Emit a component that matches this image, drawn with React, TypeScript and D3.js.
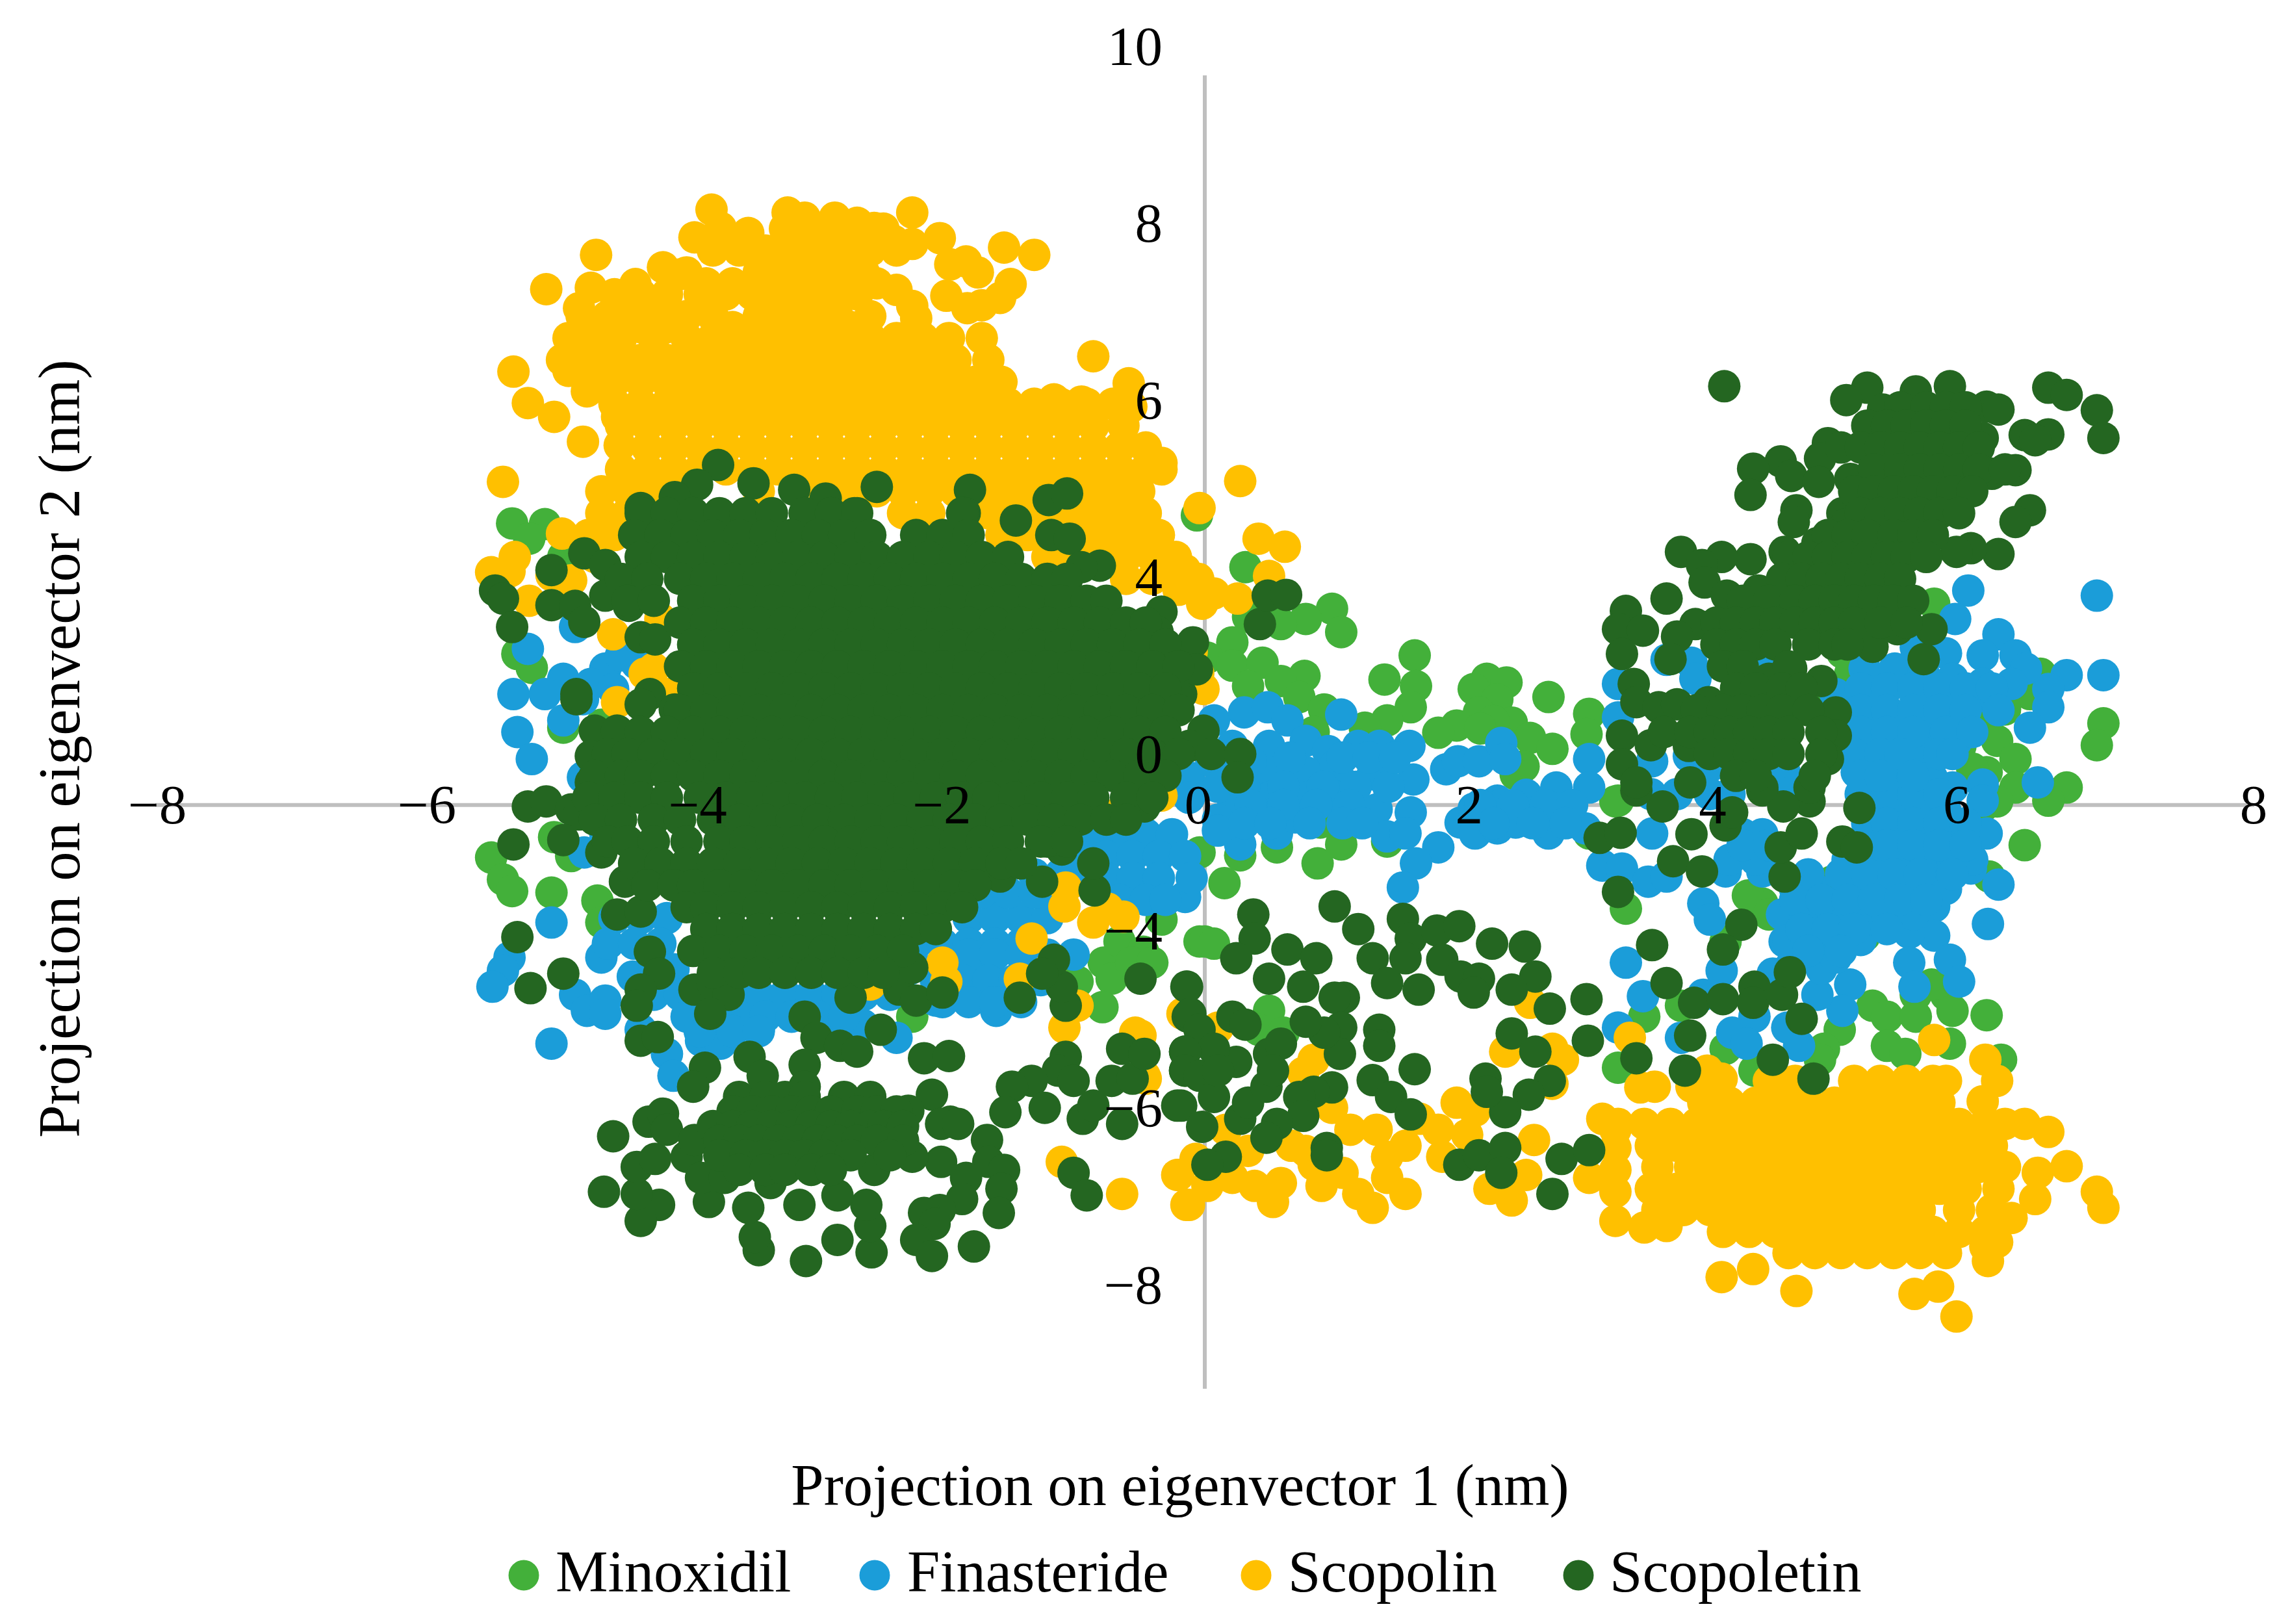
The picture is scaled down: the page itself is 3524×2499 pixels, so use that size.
import React, { useEffect, useRef } from 'react'
import * as d3 from 'd3'

type Pt = [number, number]

// values. a "rows" array is one y followed by the x values on that line
const minoxidilPoints: Pt[] = [
  [-5.28,3.86],[-5.03,3.85],[-5.15,3.65],[-4.89,3.4],[-4.57,3.93],[-5.24,2.07],[-5.13,1.88],[-4.89,1.06],[-4.6,1.1],
  [-5.44,-.72],[-5.35,-1.02],[-5.28,-1.18],[-4.98,-1.2],[-4.96,-.44],[-4.83,-.7],[-4.63,-1.31],[-4.6,-1.61],[-4.57,-.17],
  [-2.23,-2.9],[-1.64,-2.6],[-.77,-2.16],[-.65,-1.87],[-.47,-2.01],[-.71,-2.38],[-.78,-2.77],[-.56,-2.16],[-.33,-1.57],[-.97,-2.42],[-.04,-1.87],
  [.31,3.26],[-.06,3.97],[.97,2.69],[1.04,2.37],[.77,2.55],[.58,2.48],[.33,2.58],[.21,2.23],[.02,2.02],[.21,1.91],[.44,1.95],[.76,1.77],[.58,1.7],[.33,1.63],[.72,1.48],
  [1.6,2.05],[1.37,1.72],[1.61,1.63],[1.57,1.34],[1.39,1.16],[.91,1.31],[1.22,1.06],[.83,1],[2.15,1.73],[2.3,1.68],[2.05,1.59],[2.23,1.45],[2.62,1.48],[2.09,1.27],
  [2.93,1.25],[2.91,.97],[2.34,1.13],[1.92,1.09],[1.78,.99],[2.48,.92],[2.65,.77],[2.43,.53],[2.37,.42],[2.2,1.15],[2.1,1.05],
  [5.56,2.76],[4.86,2.09],[4.92,1.8],[6.37,1.8],[6.29,1.52],[6.1,1.31],[5.93,1.09],[6.04,.88],[6.18,.63],[5.96,.45],[6.18,.24],[6.57,.24],[6.43,.06],[6.85,1.12],[6.8,.82],
  [4.22,1.8],[5.26,.24],[5.1,.2],[3.77,.45],[3.15,.06],[5.76,.81],[6.25,-.55],[5.82,-.5],[5.65,-.32],[5.98,-.98],[5.93,-.02],[6.04,.05],
  [.27,-.69],[.55,-.58],[.86,-.8],[1.04,-.54],[.15,-1.07],[.88,-.24],[1.39,-.5],[2.93,-.39],[3.13,.05],[3.21,-1.42],[0,-1.87],[.07,-1.9],[-.4,-2.16],[-.04,-.65],
  [4.25,-1.35],[4.14,-1.24],[4.3,-1.5],[3.97,-1.87],[3.97,-3.34],[3.63,-2.75],[3.35,-2.9],[3.15,-3.6],[.49,-2.82],[.41,-3.08],[.6,-3.12],[5.09,-2.75],[5.2,-2.9],[4.84,-3.08],
  [4.72,-3.34],[5.2,-3.3],[5.34,-3.41],[5.96,-2.88],[5.42,-2.6],[5.65,-2.6],[5.7,-2.82],[5.42,-2.9],[5.54,-2.46],[5.68,-3.27],[6.07,-3.49],[4.19,-3.64],[4.69,-3.49],
  [4.78,-1.05],[5.03,-1.79],[5.09,.05],[5.26,.13],[5.5,.9],[5.8,1.1],[5.85,.5],[5.5,.3],[4.75,1.5],[4.85,2.4],
]

const finasteridePoints: Pt[] = [
  [-5.16,2.14],[-5.27,1.52],[-5.24,1],[-5.13,.63],[-4.89,1.73],[-5.03,1.52],[-4.89,1.16],[-4.8,2.44],[-4.57,1.87],[-4.45,2.05],[-4.68,1.66],[-4.74,1.45],[-4.51,1.59],[-4.33,1.94],
  [-4.65,.67],[-4.74,.38],[-4.73,-.65],[-4.57,-.39],[-4.98,-1.61],[-5.3,-2.09],[-5.35,-2.27],[-5.43,-2.49],[-4.6,-2.09],[-4.8,-2.6],[-4.71,-2.82],[-4.57,-2.68],[-4.57,-2.86],[-4.98,-3.27],
  [-4.36,-2.35],[-4.3,-3.08],[-4.1,-3.41],[-4.05,-3.71],[-3.84,-3.23],[-3.69,-3.27],[-3.4,-3.08],[-2.87,-3.05],[-2.61,-3.01],[-2.35,-3.19],[-1.59,-2.82],[-1.82,-2.64],[-2.05,-2.68],
  [-.15,-1.26],[.07,1.16],[.3,1.27],[.48,1.34],[.63,1.16],[1.04,1.24],[.21,.81],[.49,.81],[.77,.88],[.94,.74],[1.17,.81],[1.33,.81],[1.56,.81],[.21,.45],[.49,.45],[.77,.45],[1.05,.31],[1.28,.42],
  [1.59,.35],[1.84,.49],[1.93,.6],[2.09,.6],[2.26,.85],[2.29,.63],[2.93,.63],[2.93,.24],[2.68,.24],[2.45,.14],[2.23,.06],[-.12,.38],[-.12,.1],[.21,.1],[.49,.1],[.77,.1],[.94,.1],[.05,.6],[.35,.6],[.65,.65],[1,.55],
  [.27,-.54],[.55,-.39],[.38,-.1],[.69,-.17],[.97,.13],[1.31,-.06],[1.39,-.43],[1.57,-.1],[1.53,-.39],[1.78,-.58],[1.61,-.8],[1.51,-1.13],[1.95,-.24],[2.06,-.39],[2.23,-.32],[2.37,-.24],[2.62,-.39],[2.51,-.1],[2.9,-.32],
  [.1,-.2],[.1,-.35],[1.15,-.2],[2.05,-.05],[2.25,0],
  [5.82,2.94],[6.8,2.87],[5.72,2.55],[6.05,2.34],[5.93,2.05],[6.18,2.05],[6.57,1.78],[6.85,1.78],[6.43,1.59],[6.43,1.34],[6.29,1.06],[6.26,1.87],[6.35,.31],[5.93,.28],[5.73,.88],
  [3.52,1.99],[3.71,1.95],[3.74,1.73],[3.15,1.66],[3.15,1.2],[3.41,.6],[3.69,.67],[4.42,1.87],[4.81,1.52],[5.09,1.52],[5.03,1.87],[5.26,1.87],[5.42,2.16],[5.65,2.08],[5.48,1.8],[5.7,1.73],[5.93,1.66],[6.15,1.66],
  [5.42,1.45],[5.65,1.45],[5.85,1.45],[5.14,1.16],[5.31,1.16],[5.54,1.16],[5.03,.88],[5.42,.88],[5.03,.6],[5.48,.6],[4.97,.45],[5.31,.38],[5.54,.38],[5.7,.24],[4.3,2.09],[3.85,.53],[4.42,.45],[4.47,.17],[5.93,.06],
  [5.96,-.39],[5.84,-.87],[6.05,-1.09],[5.97,-1.63],[5.65,-.94],[5.56,-1.39],[5.56,-1.79],[5.37,-1.75],[5.37,-2.16],[5.41,-2.49],[5.68,-2.12],[5.75,-2.42],[4.92,-2.46],[4.86,-2.82],[4.67,-2.6],[4.7,-2.24],[4.81,-2.09],
  [4.42,-1.87],[4.86,-1.87],[5.09,-1.65],[4.47,-2.2],[4.33,-2.31],[3.94,-2.27],[3.8,-2.6],[4.19,-2.9],[4.02,-3.12],[3.63,-3.19],[4.44,-3.05],[4.53,-3.3],[4.13,-3.27],[3.15,-3.05],[3.34,-2.62],[3.21,-2.16],
  [3.03,-.83],[3.18,-.87],[3.38,-1.05],[3.52,-.98],[3.41,-.39],[3.8,-1.35],[3.85,-1.57],[3.97,-.91],[4.25,-.91],
]

const finasteridePatchRows: number[][] = [
  [-.4,-.85,-.65,-.45,-.25],
  [-.7,-.95,-.75,-.55,-.35,-.15],
  [-1,-.75,-.55,-.35,-.1],
  [-1.3,-.65,-.45,-.3],
  [-1.55,-4.5,-4.3,-4.1,-1.8,-1.6,-1.4,-1.2],
  [-1.9,-4.55,-4.35,-4.15,-2.2,-2,-1.8,-1.6,-1.4],
  [-2.25,-4.05,-2.25,-2.05,-1.85,-1.65],
  [-2.6,-4.2,-4,-3.8,-3.6,-3.4,-3.2,-3,-2.8,-2.6,-2.4,-1.7,-1.55],
  [-2.9,-3.95,-3.75,-3.55,-3.35,-3.15,-2.95,-2.75],
  [-.1,5.1,5.3,5.5,5.65],
  [-.4,4.1,4.25,5.1,5.3,5.5,5.7],
  [-.75,4,4.2,4.9,5.1,5.3,5.5,5.7,5.85],
  [-1.15,4.5,4.65,4.9,5.1,5.3,5.5,5.65],
  [-1.5,4.4,4.6,4.8,5,5.2,5.4],
  [-1.85,4.45,4.65,5],
  [.15,3.4,3.6,3.85,4,5,5.2,5.4,5.6],
  [1.6,5,5.2,5.4,5.6,5.8,6],
  [1.3,5,5.2,5.4,5.6,5.8,6.05],
  [1,5,5.2,5.4,5.65,5.85],
  [.7,4.95,5.15,5.3,5.6,5.7],
  [.4,5,5.15,5.4],
  [-.25,5.05,5.2,5.4,5.6,5.8],
  [-.55,4.1,4.3,5,5.2,5.4,5.6,5.8],
  [-.95,4.6,4.85,5.05,5.25,5.45,5.7],
  [-1.3,4.5,4.7,4.9,5.1,5.3,5.5],
  [-1.7,4.55,4.75,4.95,5.2],
  [-2,4.6,4.85],
  [-.95,-1.3,-1.1,-.9],
  [-1.2,-1.7,-1.5,-1.3,-1.1],
  [-2.05,-1.8,-1.6,-1.4,-1.2,-1],
  [-2.4,-2.05,-1.85,-1.65,-1.45,-1.25],
  [-2.7,-2,-1.8,-1.6,-1.4],
  [-3.1,-3.85,-3.6,-3.4],
  [.25,.1,.3,.6,.9,1.15,1.4],
  [.65,1.05,1.25,1.45],
  [0,.35,.6,.85,1.1,2.1,2.35,2.6,2.8],
  [-.25,.3,.5,.8,1.05,1.2,2.2,2.5,2.75],
]

const scopolinPoints: Pt[] = [
  [-3.76,8.16],[-2.23,8.12],[-3.18,8.12],[-3.05,8.05],[-2.82,8.05],[-2.65,7.98],[-2.52,7.91],[-3.89,7.78],[-3.69,7.91],[-3.48,7.84],[-2.02,7.77],[-1.53,7.64],[-1.3,7.54],[-2.37,7.73],[-2.23,7.69],
  [-1.82,7.45],[-1.94,7.41],[-1.73,7.3],[-1.48,7.14],[-1.56,6.95],[-1.97,6.98],[-1.81,6.81],[-1.7,6.85],[-2.23,6.84],[-2.2,6.67],[-2.35,7.06],[-4.64,7.54],[-5.02,7.07],[-4.68,7.09],[-4.34,7.14],[-4.13,7.37],[-4.01,7.27],
  [-4.77,6.81],[-4.45,6.91],[-5.27,5.94],[-5.16,5.51],[-4.96,5.32],[-4.74,4.98],[-4.46,4.93],[-4.48,5.32],[-4.71,5.67],[-5.35,4.43],[-.85,6.15],[-.58,5.78],[-.56,5.46],[-.33,4.69],[-.04,4.07],[-1.15,5.56],[-.94,5.53],
  [.27,4.44],[.41,3.65],[.61,3.54],[.49,3.14],[.25,2.83],[.07,2.9],[-.02,2.76],[-.15,3.22],[-.01,1.59],[-.3,3.2],[-.2,2.95],[-.1,2.1],[-.05,1.8],
  [-4.9,3.72],[-5.26,3.4],[-5.44,3.19],[-5.3,3.2],[-5.15,2.8],[-4.51,2.34],[-4.27,1.8],[-4.48,1.41],[-4.2,1.87],[-4.09,1.52],[-4.83,3.08],[-4.98,3.15],[-4.2,2.3],[-4.15,2.55],
  [3.94,-6.47],[4.18,-6.36],[4.51,-6.66],[5.41,-6.7],[5.59,-6.6],[5.73,-7.01],[5.97,-6.25],[5.95,-6.05],[6.43,-4.48],[6.57,-4.95],[6.8,-5.3],[6.85,-5.52],[6.33,-5.4],[6.15,-5.66],[6.04,-5.99],[6.35,-5.04],
  [5.95,-3.49],[6.04,-3.78],[5.93,-4.06],[5.56,-3.22],[3.13,-4.45],[3.13,-4.7],[3.13,-5],[3.13,-5.3],[3.13,-5.7],[3.35,-5.79],[3.52,-5.77],[3.24,-3.19],[3.32,-3.87],[3.43,-3.86],[3.71,-3.86],[3.83,-3.64],[3.94,-3.75],[3.03,-4.3],[2.93,-5.11],
  [-.2,-5.07],[-.12,-5.48],[.02,-5.22],[.21,-5.11],[.38,-5.22],[.52,-5.44],[.58,-5.18],[.33,-4.74],[.16,-4.45],[.66,-4.67],[.77,-4.74],[.83,-4.93],[.89,-5.22],[1.05,-5.04],[1.17,-5.33],[1.28,-5.52],[1.39,-5.11],[1.53,-5.33],
  [1.39,-4.82],[1.53,-4.67],[1.31,-4.45],[1.11,-4.45],[.97,-4.15],[1.64,-4.3],[1.78,-4.45],[1.81,-4.82],[1.92,-4.08],[2.06,-4.19],[2,-4.52],[2.17,-5.26],[2.34,-5.42],[2.45,-5.07],[2.51,-4.59],[2.29,-3.38],[2.65,-3.34],[2.73,-3.49],
  [2.48,-2.71],[2.65,-3.82],[.83,-3.49],[.75,-3.67],[.1,-3.05],[-.17,-2.86],[-.49,-3.16],[-.46,-3.71],[-1.07,-3.05],[-.97,-2.75],[-1.41,-2.38],[-1.32,-1.83],[-2,-2.16],[-1.97,-2.42],[-1.07,-1.39],[-1.06,-1.13],[-.85,-1.61],
  [-.62,-1.53],[-.74,-1.42],[-1.18,-2.23],[-.53,-3.12],[-.45,-3.75],[-1.09,-4.89],[-.63,-5.33],[-.21,-5.07],[-.14,-5.48],[-.07,-4.85],[-2.55,-2.46],[-.65,-.1],[-.33,.13],[-.35,.24],
]

const scopolinRows: number[][] = [
  [7.9,-3.2,-3,-2.8,-2.6,-2.45],
  [7.6,-3.75,-3.55,-3.35,-3.15,-2.95,-2.75,-2.55,-2.35],
  [7.3,-3.95,-3.4,-3.2,-3,-2.8,-2.6],
  [7.15,-3.8,-3.6,-3.3,-3.1,-2.9,-2.7,-2.5],
  [7,-4.5,-4.3,-4.1,-3.85,-3.65,-3.45,-3.25,-3.05,-2.85,-2.65],
  [6.7,-4.75,-4.55,-4.35,-4.15,-3.95,-3.75,-3.4,-3.2,-3,-2.8,-2.55],
  [6.55,-4.7,-4.5,-4.3,-4.1,-3.6,-3.3,-3.1,-2.9,-2.7],
  [6.4,-4.85,-4.65,-4.45,-4.2,-3.95,-3.75,-3.55,-3.35,-3.15,-2.95,-2.75,-2.55,-2.35,-2.15,-1.95,-1.7],
  [6.1,-4.9,-4.7,-4.5,-4.3,-4.1,-3.9,-3.7,-3.5,-3.3,-3.1,-2.9,-2.7,-2.5,-2.3,-2.1,-1.9,-1.65],
  [5.95,-4.85,-4.6,-4.4,-4.15],
  [5.8,-4.7,-4.5,-4.3,-4.1,-3.95,-3.75,-3.55,-3.35,-3.15,-2.95,-2.75,-2.55,-2.35,-2.15,-1.95,-1.75,-1.55],
  [5.5,-4.5,-4.3,-4.1,-3.9,-3.7,-3.5,-3.3,-3.1,-2.9,-2.7,-2.5,-2.3,-2.1,-1.9,-1.7,-1.5,-1.3,-1.1,-.9,-.7],
  [5.2,-4.45,-4.25,-4.05,-3.85,-3.65,-3.45,-3.25,-3.05,-2.85,-2.65,-2.45,-2.25,-2.05,-1.85,-1.65,-1.45,-1.25,-1.05,-.85,-.62],
  [4.9,-4.25,-4.05,-3.85,-3.65,-3.45,-3.25,-3.05,-2.85,-2.65,-2.45,-2.25,-2.05,-1.85,-1.65,-1.45,-1.25,-1.05,-.85,-.65,-.45],
  [4.6,-4.45,-4.25,-4.05,-3.85,-3.65,-3.45,-3.25,-3.05,-2.85,-2.65,-2.45,-2.25,-2.05,-1.85,-1.65,-1.45,-1.25,-1.05,-.85,-.65,-.45,-.33],
  [4.3,-4.6,-4.4,-4.2,-3.4,-2.9,-2.7,-2.5,-2.3,-2.1,-1.9,-1.7,-1.5,-1.3,-1.1,-.9,-.7,-.5],
  [4,-4.6,-4.4,-3,-2.3,-2.1,-1.65,-1.45,-1.25,-1.05,-.85,-.65,-.45],
  [3.7,-4.7,-4.5,-1.55,-1.35,-1.15,-.95,-.75,-.55,-.35],
  [3.4,-4.65,-1.2,-1,-.8,-.6,-.4,-.22],
  [3.1,-.6,-.4,-.2,-.05],
]

const scopoletinPoints: Pt[] = [
  [-3.71,4.66],[-3.44,4.41],[-3.87,4.39],[-4.04,4.22],[-4.3,4.07],[-3.13,4.32],[-2.89,4.2],[-2.5,4.36],[-1.79,4.32],[-2.67,4],[-1.83,4],[-1.44,3.9],[-1.19,4.18],[-1.05,4.27],[-1.17,3.7],[-1.03,3.65],[-.8,3.28],[-.94,3.26],
  [-5.41,2.94],[-5.35,2.83],[-5.28,2.44],[-4.98,3.22],[-4.73,3.45],[-4.57,3.29],[-4.98,2.74],[-4.8,2.73],[-4.73,2.51],[-4.57,2.87],[-4.39,2.73],[-4.3,2.3],[-4.19,2.27],[-4.79,1.45],[-4.79,1.52],[-4.23,1.52],[-4.3,1.38],[-4.04,1.31],
  [-4.65,1.02],[-4.48,1.02],[-4.68,.67],[-4.45,.6],[-4.68,.31],[-4.27,.53],[-4.16,.74],[-.33,2.65],[-.36,2.37],[-.09,2.23],[-.18,1.52],[-.06,1.86],[-.21,1.48],[-.01,1.02],[-.12,.81],[.05,.7],[.27,.7],[.25,.38],[-.35,.42],
  [.42,2.48],[.48,2.87],[.62,2.88],
  [-5.16,-.02],[-5.02,.05],[-4.83,-.06],[-4.77,-.13],[-5.27,-.54],[-4.89,-.48],[-4.6,-.65],[-5.24,-1.81],[-4.89,-2.31],[-5.14,-2.51],[-4.48,-1.5],[-4.42,-1.05],[-4.3,-1.46],[-4.23,-2.01],[-4.16,-2.31],[-4.3,-2.53],[-4.33,-2.75],
  [-4.3,-3.23],[-4.17,-3.18],[-3.89,-2.53],[-3.75,-2.45],[-3.63,-2.6],[-3.77,-2.86],[-3.05,-2.9],[-2.96,-3.19],[-2.78,-3.3],[-2.65,-3.38],[-2.47,-3.08],[-2.7,-2.64],[-2.33,-2.53],[-2.2,-2.68],[-2,-2.57],[-2.23,-2.23],[-2.14,-3.47],[-1.95,-3.44],
  [-1.41,-2.64],[-1.06,-2.75],[-1.09,-2.49],[-1.15,-2.12],[-1.24,-2.31],[-1.24,-1.05],[-.84,-1.17],[-.85,-.8],[-1.09,-.61],[-1.2,-.5],[-1.56,-.98],[-.46,-.02],[-.49,-2.38],[-.14,-2.49],[-.13,-2.9],
  [-1.06,-3.45],[-1.12,-3.64],[-1,-3.78],[-1.32,-3.78],[-1.47,-3.86],[-1.22,-4.15],[-1.52,-4.21],[-.93,-4.3],[-.85,-4.12],[-.71,-3.78],[-.55,-3.75],[-.63,-3.34],[-.46,-3.41],[-.63,-4.37],[-.18,-4.12],[-.15,-3.38],[-.15,-3.64],[-1,-5.04],[-.9,-5.35],
  [-3.81,-3.6],[-3.9,-3.86],[-3.47,-3.45],[-3.37,-3.71],[-3.05,-3.56],[-3.05,-3.86],[-2.08,-3.97],[-2.26,-4.19],[-1.94,-4.34],[-2.01,-4.37],[-1.88,-4.37],[-1.66,-4.59],[-1.65,-4.89],[-1.53,-5],[-1.82,-5.11],[-1.55,-5.26],[-1.85,-5.4],[-1.57,-5.59],
  [-2.01,-4.89],[-2.23,-4.82],[-2.52,-5],[-2.02,-5.55],[-2.14,-5.59],[-2.06,-5.74],[-2.2,-5.96],[-2.08,-6.18],[-1.76,-6.05],[-2.54,-6.13],[-2.55,-5.77],[-2.58,-5.48],[-2.8,-5.96],[-2.8,-5.35],[-3.09,-5.48],[-3.04,-6.25],[-3.4,-6.1],[-3.43,-5.92],
  [-3.48,-5.52],[-3.31,-5.18],[-3.78,-5.44],[-4.16,-5.48],[-4.3,-5.7],[-4.33,-5.33],[-4.58,-5.3],[-4.33,-4.96],[-4.19,-4.85],[-4.51,-4.54],[-4.24,-4.34],[-4.13,-4.23],[-4.1,-4.45],[-3.95,-4.82],[-3.89,-4.59],[-3.84,-5.11],[-3.66,-5.11],
  [-.135,-2.49],[-.11,-2.86],[-.04,-3.08],[.21,-2.9],[.31,-3.01],[.37,-1.5],[.38,-1.83],[.24,-2.1],[.63,-1.98],[.85,-2.1],[.49,-2.38],[.75,-2.49],[.99,-1.39],[1.17,-1.7],[1.28,-2.1],[1.39,-2.44],[1.51,-1.56],[1.57,-1.83],[1.53,-2.1],[1.63,-2.53],
  [1.77,-1.72],[1.94,-1.66],[1.81,-2.12],[1.95,-2.35],[2.09,-2.38],[2.05,-2.57],[2.19,-1.9],[2.44,-1.94],[2.52,-2.35],[2.34,-2.53],[2.63,-2.79],[2.91,-2.66],[2.92,-3.23],[2.34,-3.13],[2.52,-3.38],[2.14,-3.75],[2.63,-3.78],[2.47,-3.97],[2.29,-4.21],[2.15,-3.93],
  [1.6,-3.62],[1.33,-3.08],[1.33,-3.3],[1.28,-3.77],[1.42,-4],[1.57,-4.24],[1.06,-2.64],[.99,-2.64],[1.04,-3.05],[1.03,-3.41],[.91,-3.12],[.77,-2.97],[.97,-3.87],[.83,-3.93],[.72,-4],[.75,-4.26],[.55,-4.37],[.47,-4.56],[.27,-4.3],[.33,-4.08],[.47,-3.86],
  [.49,-3.41],[.58,-3.27],[.52,-3.64],[.24,-3.52],[.07,-3.34],[-.15,-3.38],[-.15,-3.64],[-.04,-3.71],[.07,-4],[.1,-3.64],[-.21,-4.12],[-.02,-4.41],[.16,-4.82],[.02,-4.93],[.93,-4.7],[.93,-4.8],[1.94,-4.93],[2.09,-4.8],[2.29,-4.7],[2.26,-5.04],[2.72,-4.85],[2.93,-4.73],[2.65,-5.33],
  [3.01,-.45],[3.17,-.38],[3.15,-1.19],[3.41,-1.92],[3.52,-2.44],[3.71,-.4],[3.57,-.77],[3.79,-.91],[3.73,-2.71],[3.95,-2.66],[4.19,-2.49],[4.18,-2.71],[4.4,-2.6],[4.46,-2.29],[4.55,-2.93],[3.7,-3.16],[3.29,-3.47],[3.66,-3.64],[4.33,-3.49],[4.64,-3.75],
  [4.09,-1.64],[3.95,-1.98],[4.42,-.98],[4.39,-.58],[4.55,-.39],[4.86,-.5],[4.97,-.58],[4.99,-.04],[3.97,-.28],[4.02,-.1],[3.49,-.02],[3.29,.2],[4.25,.2],[4.61,.05],[4.41,-.02],
  [3.96,5.74],[5.05,5.72],[4.89,5.55],[5.42,5.67],[5.68,5.74],[5.96,5.46],[6.05,5.42],[6.43,5.72],[6.57,5.62],[6.8,5.41],[6.85,5.03],[6.43,5.08],[6.25,5.07],[6.33,5],[6.18,4.59],[6,4.54],[6.29,4.04],[6.18,3.88],[6.05,3.44],[5.84,3.52],[5.73,3.47],[5.93,5.03],[5.31,5.42],[5.17,5.42],
  [4.75,4.96],[4.69,4.75],[4.39,4.71],[4.18,4.61],[4.47,4.51],[4.68,4.43],[4.16,4.25],[4.92,4.47],[4.51,4.04],[4.49,3.88],[4.86,4],[4.89,3.85],[5.09,3.58],[4.67,3.59],[4.42,3.47],[4.16,3.37],[3.94,3.4],[3.63,3.47],[3.79,3.29],[3.81,3.05],[3.98,2.87],[4.22,2.94],
  [3.52,2.83],[3.21,2.66],[3.15,2.41],[3.34,2.39],[3.18,2.07],[3.74,2.48],[3.6,2.31],[3.55,2],[3.27,1.66],[3.29,1.41],[3.46,1.34],[3.6,1.38],[3.84,1.41],[3.18,.95],[3.4,.82],[3.18,.56],[3.29,.31],[3.69,.81],[3.7,.31],[3.88,.74],[5.09,2.17],[5.48,2],[5.54,2.41],[5.28,2.41],
  [4.7,1.7],[4.47,1.87],[4.3,1.73],[4.81,1.27],[4.81,.95],[4.75,.63],[4.61,.24],[4.25,.24],
]

const scopoletinRows: number[][] = [
  [4,-4.3,-4.1,-3.9,-3.7,-3.5,-3.3,-3.05,-2.85,-2.65,-1.85],
  [3.7,-4.35,-4.15,-3.95,-3.75,-3.55,-3.35,-3.15,-2.95,-2.75,-2.55,-2.2,-2,-1.8],
  [3.4,-4.3,-4.1,-3.9,-3.7,-3.5,-3.3,-3.1,-2.9,-2.7,-2.5,-2.3,-2.1,-1.9,-1.7,-1.5],
  [3.1,-4.45,-4.25,-4,-3.8,-3.6,-3.4,-3.2,-3,-2.8,-2.6,-2.4,-2.2,-2,-1.8,-1.6,-1.4,-1.2,-1.05],
  [2.8,-4.4,-4.2,-3.9,-3.7,-3.5,-3.3,-3.1,-2.9,-2.7,-2.5,-2.3,-2.1,-1.9,-1.7,-1.5,-1.3,-1.1,-.9,-.75],
  [2.5,-4,-3.8,-3.6,-3.4,-3.2,-3,-2.8,-2.6,-2.4,-2.2,-2,-1.8,-1.6,-1.4,-1.2,-1,-.8,-.6,-.45],
  [2.2,-3.9,-3.7,-3.5,-3.3,-3.1,-2.9,-2.7,-2.5,-2.3,-2.1,-1.9,-1.7,-1.5,-1.3,-1.1,-.9,-.7,-.5,-.3],
  [1.9,-4,-3.8,-3.6,-3.4,-3.2,-3,-2.8,-2.6,-2.4,-2.2,-2,-1.8,-1.6,-1.4,-1.2,-1,-.8,-.6,-.4,-.2],
  [1.6,-3.9,-3.7,-3.5,-3.3,-3.1,-2.9,-2.7,-2.5,-2.3,-2.1,-1.9,-1.7,-1.5,-1.3,-1.1,-.9,-.7,-.5,-.3],
  [1.3,-4,-3.8,-3.6,-3.4,-3.2,-3,-2.8,-2.6,-2.4,-2.2,-2,-1.8,-1.6,-1.4,-1.2,-1,-.8,-.6,-.4,-.2],
  [1,-4.3,-4.1,-3.9,-3.7,-3.5,-3.3,-3.1,-2.9,-2.7,-2.5,-2.3,-2.1,-1.9,-1.7,-1.5,-1.3,-1.1,-.9,-.7,-.5,-.3],
  [.7,-4.55,-4.4,-4.2,-4,-3.8,-3.6,-3.4,-3.2,-3,-2.8,-2.6,-2.4,-2.2,-2,-1.8,-1.6,-1.4,-1.2,-1,-.8,-.6,-.4,-.2],
  [.4,-4.65,-4.45,-4.3,-4.1,-3.9,-3.7,-3.5,-3.3,-3.1,-2.9,-2.7,-2.5,-2.3,-2.1,-1.9,-1.7,-1.5,-1.3,-1.1,-.9,-.7,-.5,-.3],
  [.1,-4.7,-4.5,-4.3,-4.1,-3.85,-3.65,-3.45,-3.25,-3.05,-2.85,-2.65,-2.45,-2.25,-2.05,-1.85,-1.65,-1.45,-1.25,-1.05,-.85,-.6,-.4],
  [-.2,-4.65,-4.45,-4.2,-4,-3.75,-3.55,-3.35,-3.15,-2.95,-2.75,-2.55,-2.35,-2.15,-1.95,-1.75,-1.55,-1.35,-1.15,-.95,-.75,-.6],
  [-.5,-4.55,-4.4,-4.2,-3.95,-3.7,-3.5,-3.3,-3.1,-2.9,-2.7,-2.5,-2.3,-2.1,-1.9,-1.7,-1.5,-1.25,-1.05],
  [-.8,-4.35,-4.15,-3.95,-3.75,-3.55,-3.35,-3.15,-2.95,-2.75,-2.55,-2.35,-2.15,-1.95,-1.75,-1.55,-1.4],
  [-1.1,-4.25,-4.05,-3.9,-3.7,-3.5,-3.3,-3.1,-2.9,-2.7,-2.5,-2.3,-2.1,-1.9,-1.75],
  [-1.4,-3.95,-3.8,-3.6,-3.4,-3.2,-3,-2.8,-2.6,-2.4,-2.2,-2,-1.85],
  [-1.7,-3.8,-3.6,-3.4,-3.2,-3,-2.8,-2.6,-2.4,-2.2,-2.05],
  [-2,-3.9,-3.7,-3.5,-3.3,-3.1,-2.9,-2.7,-2.5,-2.3],
  [-2.3,-3.75,-3.55,-3.4,-3.2,-3,-2.8,-2.6,-2.45],
  [-4,-3.55,-3.35,-3.2,-3.05,-2.75,-2.55],
  [-4.2,-3.6,-3.45,-3.3,-3.15,-3,-2.85,-2.65,-2.5,-2.35],
  [-4.4,-3.75,-3.6,-3.45,-3.3,-3.15,-3,-2.85,-2.7,-2.55,-2.45,-2.3],
  [-4.6,-3.7,-3.55,-3.4,-3.25,-3.1,-2.95,-2.8,-2.65,-2.5,-2.3],
  [-4.8,-3.7,-3.5,-3.35,-3.2,-3.05,-2.9,-2.7,-2.4],
  [-5,-3.55,-3.35,-3.2,-3,-2.85],
  [5.45,5.3,5.5,5.65,5.8],
  [5.2,5.05,5.2,5.35,5.5,5.65,5.8],
  [4.9,4.85,5,5.15,5.3,5.45,5.6,5.75,5.9],
  [4.6,5.1,5.3,5.45,5.6,5.75,5.9,6.1],
  [4.3,4.95,5.1,5.25,5.4,5.55,5.7,5.85],
  [4,5,5.15,5.3,5.45,5.6,5.75],
  [3.7,4.75,4.9,5.05,5.25,5.4,5.55],
  [3.4,4.45,4.6,4.75,4.9,5.05,5.2,5.35,5.5],
  [3.1,4.4,4.55,4.7,4.85,5,5.15,5.3],
  [2.8,4.1,4.3,4.5,4.65,4.8,4.95,5.1,5.25,5.4],
  [2.5,3.9,4.05,4.2,4.35,4.5,4.65,4.8,4.95,5.15,5.35],
  [2.2,3.9,4.05,4.2,4.35,4.6,4.8,4.9],
  [1.9,3.95,4.1,4.45],
  [1.6,4.05,4.2,4.4,4.55],
  [1.3,3.75,3.95,4.1,4.25,4.4,4.6],
  [1,3.5,3.7,3.85,4,4.15,4.3,4.45,4.7],
  [.7,3.85,4,4.15,4.3,4.45,4.7],
  [.4,4.05,4.2,4.65],
]

const scopolinLowerRows: number[][] = [
  [-3.78,3.9,4.3,4.5,4.95,5.15,5.35,5.55,5.65],
  [-4.08,3.8,4,4.2,4.4,4.6,4.8,5,5.2,5.4,5.6],
  [-4.37,3.15,3.35,3.55,3.75,3.95,4.15,4.35,4.55,4.75,4.95,5.15,5.35,5.55,5.75,5.95,6.1,6.25],
  [-4.67,3.4,3.6,3.8,4,4.2,4.4,4.6,4.8,5,5.2,5.4,5.6,5.8,6],
  [-4.96,3.45,3.7,3.9,4.1,4.3,4.5,4.7,4.9,5.1,5.3,5.5,5.7,5.9,6.1],
  [-5.26,3.4,3.6,3.8,4,4.2,4.4,4.6,4.8,5,5.2,5.4,5.6,5.8,6.05],
  [-5.55,3.45,3.65,3.85,4.05,4.25,4.45,4.65,4.85,5.05,5.25,5.45,5.75,6],
  [-5.85,3.95,4.15,4.35,4.55,4.75,4.95,5.15,5.35,5.55,5.75,5.95],
  [-6.14,4.45,4.65,4.85,5.05,5.25,5.45,5.65],
]

// series order is also the paint order, Scopoletin ends up on top
const seriesNames = ['Minoxidil', 'Finasteride', 'Scopolin', 'Scopoletin']
const seriesColors = ['#43B03A', '#1B9DD9', '#FFC000', '#246621']

const xTickValues = [-8, -6, -4, -2, 0, 2, 4, 6, 8]
// labels do not sit under their ticks in the original
const xLabelShift = [3, 14, 27, -1, -10, 3, -26, -54, -1]
const yTickLabels = ['10', '8', '6', '4', '0', '\u22124', '\u22126', '\u22128']

const legendMarkerX = [806, 1346, 1933, 2429]
const legendTextX = [855, 1396, 1982, 2477]

const fromRows = (rows: number[][]): Pt[] => rows.flatMap((r) => r.slice(1).map((x): Pt => [x, r[0]]))

const W = 3524
const H = 2499
const R = 25
const FONT = '"Liberation Serif", serif'
const TICK_FS = 85
const TITLE_FS = 90.6

const App = () => {
  const ref = useRef<SVGSVGElement>(null)

  useEffect(() => {
    const svg = d3.select(ref.current)
    svg.selectAll('*').remove()

    const x = d3.scaleLinear().domain([-8, 8]).range([239, 3469])
    const y = d3.scaleLinear().domain([-8, 10]).range([2137, 116])
    const yLabel = d3.scalePoint().domain(yTickLabels).range([72, 1978])

    svg.append('rect').attr('width', W).attr('height', H).attr('fill', '#fff')

    const axisG = svg.append('g').attr('stroke', '#BFBFBF').attr('stroke-width', 6)
    axisG.append('line').attr('x1', x(-8)).attr('x2', x(8)).attr('y1', y(0)).attr('y2', y(0))
    axisG.append('line').attr('x1', x(0)).attr('x2', x(0)).attr('y1', y(10)).attr('y2', y(-8))

    const series: Pt[][] = [
      minoxidilPoints,
      [...finasteridePoints, ...fromRows(finasteridePatchRows)],
      [...scopolinPoints, ...fromRows(scopolinRows), ...fromRows(scopolinLowerRows)],
      [...scopoletinPoints, ...fromRows(scopoletinRows)],
    ]

    series.forEach((pts, i) => {
      svg.append('g')
        .attr('fill', seriesColors[i])
        .selectAll('circle')
        .data(pts)
        .enter()
        .append('circle')
        .attr('cx', (d) => x(d[0]))
        .attr('cy', (d) => y(d[1]))
        .attr('r', R)
    })

    const text = svg.append('g').attr('font-family', FONT).attr('font-size', TITLE_FS).attr('fill', '#000')

    text.selectAll('text.xt')
      .data(xTickValues)
      .enter()
      .append('text')
      .attr('font-size', TICK_FS)
      .attr('x', (d, i) => x(d) + xLabelShift[i])
      .attr('y', y(0) + 28)
      .attr('text-anchor', 'middle')
      .text((d) => String(d).replace('-', '\u2212'))

    text.selectAll('text.yt')
      .data(yTickLabels)
      .enter()
      .append('text')
      .attr('font-size', TICK_FS)
      .attr('x', 1789)
      .attr('y', (d) => yLabel(d) + 28)
      .attr('text-anchor', 'end')
      .text((d) => d)

    text.append('text')
      .attr('x', 1816)
      .attr('y', 2316)
      .attr('text-anchor', 'middle')
      .text('Projection on eigenvector 1 (nm)')

    text.append('text')
      .attr('transform', 'translate(122,1152) rotate(-90)')
      .attr('text-anchor', 'middle')
      .text('Projection on eigenvector 2 (nm)')

    seriesNames.forEach((name, i) => {
      svg.append('circle').attr('cx', legendMarkerX[i]).attr('cy', 2424).attr('r', 23.5).attr('fill', seriesColors[i])
      text.append('text').attr('x', legendTextX[i]).attr('y', 2449).text(name)
    })
  }, [])

  return <svg ref={ref} width={W} height={H} style={{ position: 'absolute', left: 0, top: 0 }} />
}

export default App
